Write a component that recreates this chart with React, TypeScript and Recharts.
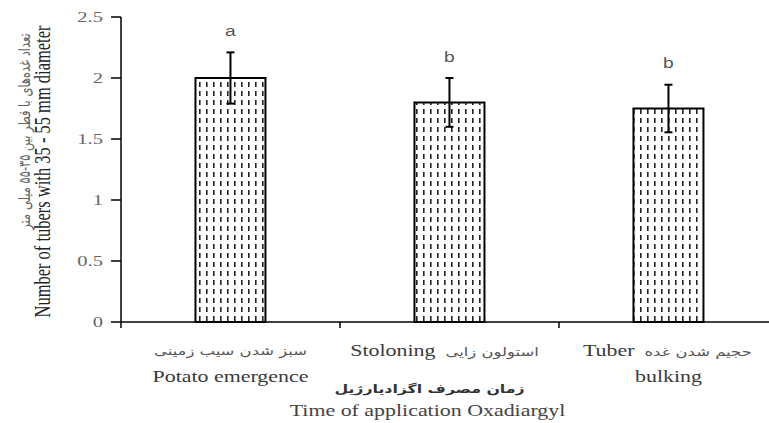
import { Bar, BarChart, ErrorBar, Label, LabelList, XAxis, YAxis } from 'recharts';

const categories = ['Potato emergence', 'Stoloning', 'Tuber bulking'];
const values = [2.0, 1.8, 1.75];
const errors = [0.21, 0.2, 0.195];
const letters = ['a', 'b', 'b'];
const yTicks = [0, 0.5, 1, 1.5, 2, 2.5];

// tick label lines: english part, persian part
const tickLines = [
  [['', 'سبز شدن سیب زمینی'], ['Potato emergence', '']],
  [['Stoloning', 'استولون زایی']],
  [['Tuber', 'حجیم شدن غده'], ['bulking', '']],
];
// where the english / persian runs meet on a mixed line, from the band centre
const splitAt = [0, -10, -30];

const xTitleFa = 'زمان مصرف اگزادیارژیل';
const xTitleEn = 'Time of application Oxadiargyl';
const yTitleFa = 'تعداد غده‌های با قطر بین ۳۵-۵۵ میلی متر';
const yTitleEn = 'Number of tubers with 35 - 55 mm diameter';

const rows = categories.map((name, i) => ({
  name,
  value: values[i],
  err: errors[i],
  letter: letters[i],
}));

const SX = 1.37; // the source picture is stretched sideways
const SERIF = 'Liberation Serif';
const FA = 'DejaVu Sans';

function Stretched(props: any) {
  const { x, y, anchor = 'middle', family = SERIF, size = 16, color = '#3a3a3a', weight = 'normal', children } = props;
  return (
    <text
      transform={`translate(${x},${y}) scale(${SX},1)`}
      textAnchor={anchor}
      dominantBaseline="central"
      fontFamily={family}
      fontSize={size}
      fontWeight={weight}
      fill={color}
      stroke="none"
    >
      {children}
    </text>
  );
}

function CategoryTick(props: any) {
  const { x, y, payload, index } = props;
  const half = payload?.offset ?? 0;
  const lines = tickLines[index] ?? [];
  const isLast = index === categories.length - 1;
  return (
    <g>
      <line x1={x - half} x2={x - half} y1={y} y2={y + 6} stroke="#000" strokeWidth={1.5} />
      {isLast && <line x1={x + half} x2={x + half} y1={y} y2={y + 6} stroke="#000" strokeWidth={1.5} />}
      {lines.map(([en, fa], li) => {
        const ly = y + 29 + li * 26;
        if (en && fa) {
          const sx = x + splitAt[index];
          return (
            <g key={li}>
              <Stretched x={sx - 4} y={ly} anchor="end">{en}</Stretched>
              <Stretched x={sx + 6} y={ly + 1} anchor="start" family={FA} size={12} color="#555">{fa}</Stretched>
            </g>
          );
        }
        return en ? (
          <Stretched key={li} x={x} y={ly}>{en}</Stretched>
        ) : (
          <Stretched key={li} x={x} y={ly} family={FA} size={12} color="#555">{fa}</Stretched>
        );
      })}
    </g>
  );
}

function ValueTick(props: any) {
  const { x, y, payload } = props;
  return (
    <Stretched x={x} y={y} anchor="end" size={15} color="#666">
      {payload.value}
    </Stretched>
  );
}

function XTitle(props: any) {
  const { viewBox } = props;
  const cx = viewBox.x + viewBox.width / 2 - 22;
  return (
    <g>
      <Stretched x={cx + 2} y={viewBox.y + 67} family={FA} size={11.5} weight="bold" color="#333">
        {xTitleFa}
      </Stretched>
      <Stretched x={cx} y={viewBox.y + 89} color="#444">
        {xTitleEn}
      </Stretched>
    </g>
  );
}

function YTitle(props: any) {
  const { viewBox } = props;
  const cy = viewBox.y + viewBox.height / 2;
  return (
    <g>
      <text
        transform={`translate(24,${cy - 38}) rotate(-90) scale(1,${SX})`}
        textAnchor="middle"
        dominantBaseline="central"
        fontFamily={FA}
        fontSize={11.5}
        fill="#666"
        stroke="none"
      >
        {yTitleFa}
      </text>
      <text
        transform={`translate(42,${cy + 2}) rotate(-90) scale(1,${SX})`}
        textAnchor="middle"
        dominantBaseline="central"
        fontFamily={SERIF}
        fontSize={16.5}
        fill="#222"
        stroke="none"
      >
        {yTitleEn}
      </text>
    </g>
  );
}

function LetterLabel(props: any) {
  const { x, y, width, height, index } = props;
  const perUnit = height / values[index];
  const top = y - errors[index] * perUnit;
  return (
    <Stretched x={x + width / 2} y={top - 21} family="Liberation Sans" size={14} color="#555">
      {letters[index]}
    </Stretched>
  );
}

export default function App() {
  return (
    <div
      style={{
        position: 'fixed',
        left: 0,
        top: 0,
        width: 769,
        height: 423,
        overflow: 'hidden',
        background: '#fff',
      }}
    >
      <BarChart
        width={800}
        height={423}
        data={rows}
        margin={{ top: 17, right: 22, left: 0, bottom: 0 }}
        barCategoryGap="34%"
      >
        <defs>
          <pattern id="dashFill" width={7} height={9} patternUnits="userSpaceOnUse">
            <rect width={7} height={9} fill="#fff" />
            <rect x={3} y={1} width={1.6} height={5} fill="#222" />
          </pattern>
        </defs>
        <XAxis
          dataKey="name"
          height={101}
          tickLine={false}
          tickSize={0}
          tickMargin={0}
          interval={0}
          axisLine={{ stroke: '#000', strokeWidth: 1.5 }}
          tick={<CategoryTick />}
        >
          <Label content={<XTitle />} />
        </XAxis>
        <YAxis
          width={121}
          domain={[0, 2.5]}
          ticks={yTicks}
          tickSize={10}
          tickMargin={8}
          axisLine={{ stroke: '#000', strokeWidth: 1.5 }}
          tickLine={{ stroke: '#000', strokeWidth: 1.5 }}
          tick={<ValueTick />}
        >
          <Label content={<YTitle />} />
        </YAxis>
        <Bar dataKey="value" fill="url(#dashFill)" stroke="#000" strokeWidth={2} isAnimationActive={false}>
          <ErrorBar dataKey="err" direction="y" width={4} stroke="#000" strokeWidth={2} />
          <LabelList dataKey="letter" content={<LetterLabel />} />
        </Bar>
      </BarChart>
    </div>
  );
}
